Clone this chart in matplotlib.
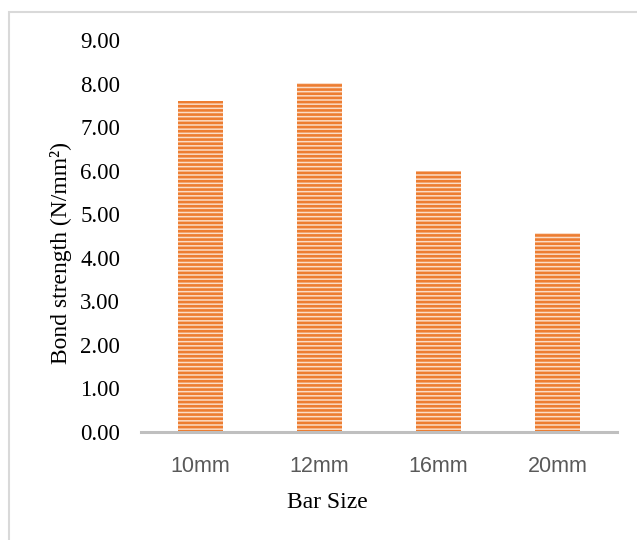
import matplotlib.pyplot as plt
import numpy as np
from matplotlib.patches import Rectangle

sizes = ['10mm', '12mm', '16mm', '20mm']
bond = [7.60, 8.02, 5.99, 4.57]
yticks = [0, 1, 2, 3, 4, 5, 6, 7, 8, 9]

W, H = 637, 540
fig = plt.figure(figsize=(W / 100, H / 100), dpi=100)
plt.rcParams['hatch.linewidth'] = 1.9

# marco gris del recuadro del grafico (solo se ve arriba y a la izquierda)
fig.patches.append(Rectangle((9 / W, -0.1), 1.2, 1 - 12 / H + 0.1, transform=fig.transFigure,
                             fill=False, edgecolor='#D9D9D9', linewidth=1.5))

ax = fig.add_axes([141 / W, 1 - 432 / H, (617 - 141) / W, (432 - 40) / H])
x = np.arange(len(sizes))
ax.bar(x, bond, width=0.38, color='#FBDCC6', edgecolor='#ED7D31', linewidth=0, hatch='----')

ax.set_xlim(-0.5, len(sizes) - 0.5)
ax.set_ylim(0, 9)
ax.set_yticks(yticks)
ax.set_yticklabels(['%.2f' % v for v in yticks], fontfamily='Liberation Serif', fontsize=16.5)
ax.set_xticks(x)
ax.set_xticklabels(sizes, fontfamily='Liberation Sans', fontsize=15.5, color='#595959')
ax.tick_params(axis='y', length=0, pad=15)
ax.tick_params(axis='x', length=0, pad=17)

for s in ['top', 'right', 'left']:
    ax.spines[s].set_visible(False)
ax.spines['bottom'].set_color('#BFBFBF')
ax.spines['bottom'].set_linewidth(2.2)

fig.text(327 / W, 1 - 502 / H, 'Bar Size', ha='center', va='center',
         fontfamily='Liberation Serif', fontsize=17)
fig.text(61 / W, 1 - 253 / H, 'Bond strength (N/mm²)', ha='center', va='center', rotation=90,
         fontfamily='Liberation Serif', fontsize=17)

fig.savefig('out.png', dpi=100)
